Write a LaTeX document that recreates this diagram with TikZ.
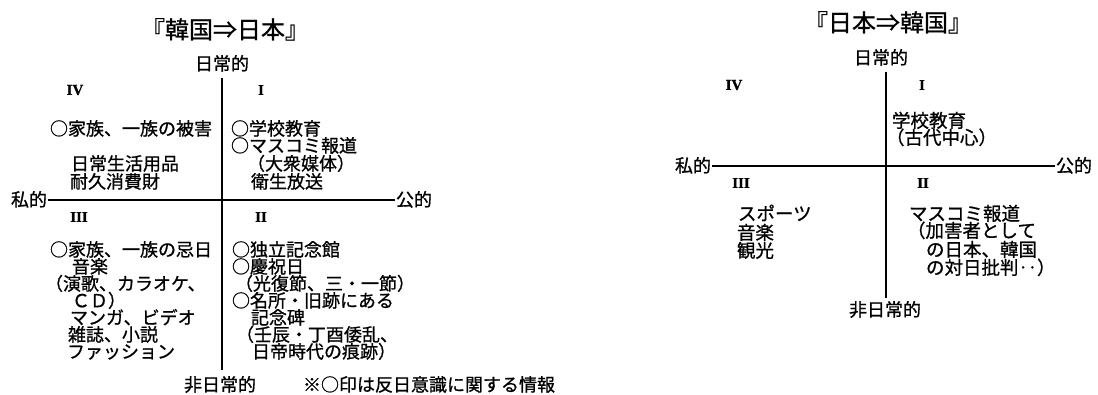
\documentclass[tikz,border=0pt]{standalone}
\usepackage{fontspec}
\setmainfont{Noto Sans CJK JP}[FakeBold=0.9]
\newfontfamily\romfont{Liberation Serif}[BoldFeatures={FakeBold=1}]
\begin{document}
\begin{tikzpicture}[x=1pt,y=-1pt,
  every node/.style={inner sep=0pt, outer sep=0pt},
  tx/.style={anchor=west, font=\fontsize{18}{18}\selectfont, text height=12.5pt, text depth=0pt},
  txr/.style={anchor=west, font=\fontsize{18.5}{19}\selectfont, text height=12.8pt, text depth=0pt},
  lbl/.style={font=\fontsize{18}{18}\selectfont, text height=12.5pt, text depth=0pt},
  rom/.style={font=\romfont\bfseries\fontsize{15}{15}\selectfont},
  ttl/.style={font=\fontsize{24}{26}\selectfont, text height=17pt, text depth=0pt},
  axis/.style={line width=1.3pt}]
\fill[white] (0,0) rectangle (1098,395);
\useasboundingbox (0,0) rectangle (1098,395);

% ===== Left diagram =====
\node[ttl] (Ltitle) at (225,30) {『韓国⇒日本』};
\node[lbl] (Ltoplbl) at (222,64) {日常的};
\coordinate (Ltop) at (222,78);
\coordinate (Lbot) at (222,370);
\draw[axis] (Ltop) -- (Lbot);
\coordinate (Lleft) at (48,200);
\coordinate (Lright) at (395,200);
\draw[axis] (Lleft) -- (Lright);
\node[lbl, anchor=east] (Lpriv) at ([xshift=-1pt]Lleft) {私的};
\node[lbl, anchor=west] (Lpub) at ([xshift=1pt]Lright) {公的};
\node[lbl] (Lbotlbl) at (220,385) {非日常的};

\node[rom] (L4) at (75,90) {IV};
\node[rom] (L1) at (261,90) {I};
\node[rom] (L3) at (79,217) {III};
\node[rom] (L2) at (261,217) {II};

% quadrant IV
\node[tx] (a1) at (50,129) {○家族、一族の被害};
\node[tx] (a2) at (71,164) {日常生活用品};
\node[tx] (a3) at (70,182) {耐久消費財};
% quadrant I
\node[tx] (b1) at (231,129) {○学校教育};
\node[tx] (b2) at (231,146) {○マスコミ報道};
\node[tx] (b3) at (247,164) {（大衆媒体）};
\node[tx] (b4) at (251,182) {衛生放送};
% quadrant III
\node[tx] (c1) at (50,250) {○家族、一族の忌日};
\node[tx] (c2) at (72,267) {音楽};
\node[tx] (c3) at (45,284) {（演歌、カラオケ、};
\node[tx] (c4) at (72,301) {ＣＤ）};
\node[tx] (c5) at (70,318) {マンガ、ビデオ};
\node[tx] (c6) at (68,335) {雑誌、小説};
\node[tx] (c7) at (67,352) {ファッション};
% quadrant II
\node[tx] (d1) at (232,250) {○独立記念館};
\node[tx] (d2) at (232,267) {○慶祝日};
\node[tx] (d3) at (235,284) {（光復節、三・一節）};
\node[tx] (d4) at (232,301) {○名所・旧跡にある};
\node[tx] (d5) at (251,318) {記念碑};
\node[tx] (d6) at (236,335) {（壬辰・丁酉倭乱、};
\node[tx] (d7) at (252,352) {日帝時代の痕跡）};

\node[tx] (note) at (303,385) {※○印は反日意識に関する情報};

% ===== Right diagram =====
\node[ttl] (Rtitle) at (888,23) {『日本⇒韓国』};
\node[lbl] (Rtoplbl) at (881,58) {日常的};
\coordinate (Rtop) at (886,72);
\coordinate (Rbot) at (886,298);
\draw[axis] (Rtop) -- (Rbot);
\coordinate (Rleft) at (712,166);
\coordinate (Rright) at (1055,166);
\draw[axis] (Rleft) -- (Rright);
\node[lbl, anchor=east] (Rpriv) at ([xshift=-1pt]Rleft) {私的};
\node[lbl, anchor=west] (Rpub) at ([xshift=1pt]Rright) {公的};
\node[lbl] (Rbotlbl) at (885,310) {非日常的};

\node[rom] (R4) at (734,85) {IV};
\node[rom] (R1) at (922,85) {I};
\node[rom] (R3) at (741,183) {III};
\node[rom] (R2) at (923,183) {II};

\node[txr] (e1) at (892,121) {学校教育};
\node[txr] (e2) at (886,138) {（古代中心）};

\node[txr] (f1) at (738,214) {スポーツ};
\node[txr] (f2) at (737,233) {音楽};
\node[txr] (f3) at (737,251) {観光};

\node[txr] (g1) at (909,214) {マスコミ報道};
\node[txr] (g2) at (907,231) {（加害者として};
\node[txr] (g3) at (926,250) {の日本、韓国};
\node[txr] (g4) at (926,268) {の対日批判‥）};
\end{tikzpicture}
\end{document}
